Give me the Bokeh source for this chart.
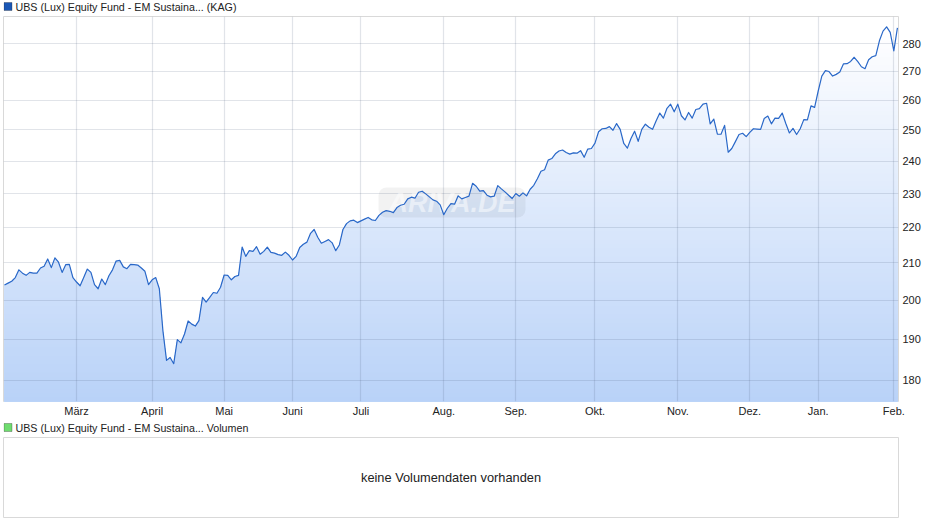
import numpy as np
from bokeh.plotting import figure
from bokeh.layouts import column
from bokeh.models import FixedTicker, BasicTickFormatter, Label, BoxAnnotation
from bokeh.embed import file_html
from bokeh.resources import INLINE

# Fund price per trading day
prices = [
 204.0,204.5,205.0,206.0,208.1,207.2,206.6,207.4,207.2,207.2,208.6,209.1,211.1,208.7,211.4,210.2,207.4,209.5,209.6,206.0,
 204.8,203.8,206.0,208.3,207.4,204.1,203.0,205.6,204.1,206.5,208.1,210.5,210.7,208.9,208.4,209.6,209.5,209.4,208.6,207.7,
 204.1,205.4,206.0,203.0,192.1,184.8,185.5,184.0,189.9,189.1,191.3,194.6,193.8,193.3,194.7,200.7,199.5,200.7,202.0,201.8,
 203.4,206.7,206.6,205.4,206.3,206.6,214.4,211.8,213.4,213.2,214.5,212.4,213.2,214.4,212.9,212.7,212.3,212.1,213.0,212.1,
 210.8,211.8,214.3,215.2,215.8,218.3,219.4,217.2,215.5,216.0,216.5,215.6,213.4,215.0,219.4,221.1,221.9,222.1,221.4,221.9,
 222.4,222.9,222.2,222.0,223.5,224.4,224.9,224.7,224.3,225.8,226.5,226.8,228.4,228.9,228.6,230.4,230.7,229.9,229.0,228.1,
 227.7,226.6,223.7,225.6,227.0,226.8,229.3,228.4,228.8,229.2,233.1,232.2,230.7,230.9,229.5,229.0,229.2,232.4,231.4,230.5,
 229.5,228.5,230.0,229.2,230.2,229.3,231.3,232.5,234.5,236.8,237.3,240.3,240.8,242.3,243.2,243.5,242.7,242.2,242.6,242.5,
 243.3,241.2,243.8,244.0,245.7,249.4,250.4,250.5,251.1,249.9,252.1,250.2,245.6,244.1,247.2,249.6,246.3,250.2,251.9,250.9,
 250.2,253.0,255.6,253.9,257.2,258.6,256.0,258.6,254.7,253.3,255.8,253.9,256.8,257.1,258.6,258.9,252.0,253.6,248.6,248.6,
 251.5,242.8,244.0,246.2,248.5,248.9,247.8,249.2,250.4,250.3,250.2,253.8,254.6,252.0,253.9,253.8,255.6,252.1,249.0,250.5,
 248.5,250.4,253.4,253.3,258.0,257.5,263.1,268.3,270.2,269.9,268.3,268.9,269.7,272.6,272.7,273.5,275.0,273.4,271.6,270.9,
 274.1,275.2,275.6,281.0,284.6,286.2,284.1,277.3,285.8,
]
month_labels = ["März","April","Mai","Juni","Juli","Aug.","Sep.","Okt.","Nov.","Dez.","Jan.","Feb."]
month_index = [20,41,61,80,99,122,142,164,187,207,226,247]
price_ticks = [180,190,200,210,220,230,240,250,260,270,280]
price_title = "UBS (Lux) Equity Fund - EM Sustaina... (KAG)"
volume_title = "UBS (Lux) Equity Fund - EM Sustaina... Volumen"
no_volume = "keine Volumendaten vorhanden"

TEXT = "#222222"
FONT = "Liberation Sans"
y_lo, y_hi = 175.1, 290.1
x = np.arange(len(prices))
v = np.array(prices)


def header(text, color, strip, text_y):
    """Thin strip above a panel: coloured square and series name."""
    s = figure(width=932, height=strip, output_backend="svg", toolbar_location=None,
               x_range=(0, 1), y_range=(0, 1), min_border=0,
               background_fill_color=None, border_fill_color=None, outline_line_color=None)
    s.xaxis.visible = False
    s.yaxis.visible = False
    s.grid.visible = False
    s.add_layout(BoxAnnotation(left=0.5, right=8.5, top=text_y + 4, bottom=text_y - 4,
                               left_units="screen", right_units="screen", top_units="screen", bottom_units="screen",
                               fill_color=color, fill_alpha=1, line_color="#222222", line_width=1))
    s.add_layout(Label(x=12, y=text_y, x_units="screen", y_units="screen", text=text,
                       text_font=FONT, text_font_size="10.7px", text_color=TEXT, text_baseline="middle"))
    return s


p = figure(width=932, height=404, output_backend="svg", toolbar_location=None,
           y_axis_type="log", y_axis_location="right",
           x_range=(-0.28, 248.3), y_range=(y_lo, y_hi),
           frame_width=895, frame_height=385,
           min_border_left=3, min_border_top=0, min_border_right=34, min_border_bottom=19,
           background_fill_color="white", border_fill_color=None,
           outline_line_color="#d9d9d9", outline_line_width=1)

# vertical gradient below the line
n_bands = 90
edges = np.geomspace(y_lo, y_hi * 0.985, n_bands + 1)
bottom = np.array([0xB9, 0xD2, 0xF8])
top = np.array([0xFF, 0xFF, 0xFF])
for k in range(n_bands - 1, -1, -1):
    t = k / (n_bands - 1)
    c = (bottom + (top - bottom) * t).round().astype(int)
    p.varea(x=x, y1=np.full(len(x), y_lo), y2=np.minimum(v, edges[k + 1]),
            fill_color="#%02x%02x%02x" % tuple(c), level="image")

p.line(x, v, line_color="#2a68c8", line_width=1.2, line_join="round")

ax = p.xaxis[0]
ax.ticker = FixedTicker(ticks=month_index)
ax.major_label_overrides = dict(zip(month_index, month_labels))
ay = p.yaxis[0]
ay.ticker = FixedTicker(ticks=price_ticks)
ay.formatter = BasicTickFormatter()
for a in (ax, ay):
    a.axis_line_color = None
    a.major_tick_line_color = None
    a.minor_tick_line_color = None
    a.major_tick_out = 0
    a.major_tick_in = 0
    a.major_label_text_font = FONT
    a.major_label_text_font_size = "11px"
    a.major_label_text_color = TEXT
ax.major_label_standoff = 3
ay.major_label_standoff = 4

for g in (p.xgrid[0], p.ygrid[0]):
    g.grid_line_color = "#50607f"
    g.grid_line_alpha = 0.17
    g.grid_line_width = 1.2
p.xgrid[0].ticker = FixedTicker(ticks=month_index)
p.ygrid[0].ticker = FixedTicker(ticks=price_ticks)

# faint site watermark
p.add_layout(Label(x=375, y=199, x_units="screen", y_units="screen", text="ARIVA.DE",
                   text_font=FONT, text_font_style="bold italic", text_font_size="27px",
                   text_color="white", text_alpha=0.5, text_baseline="middle",
                   background_fill_color="black", background_fill_alpha=0.05,
                   padding=(10, 0), border_radius=8, level="underlay"))

q = figure(width=932, height=88, output_backend="svg", toolbar_location=None,
           x_range=(0, 1), y_range=(0, 1),
           frame_width=895, frame_height=80,
           min_border_left=3, min_border_top=0, min_border_right=34, min_border_bottom=8,
           background_fill_color="white", border_fill_color=None,
           outline_line_color="#d9d9d9", outline_line_width=1)
q.xaxis.visible = False
q.yaxis.visible = False
q.grid.visible = False
q.add_layout(Label(x=0.5, y=0.5, text=no_volume, text_align="center", text_baseline="middle",
                   text_font=FONT, text_font_size="12.8px", text_color=TEXT))

layout = column(header(price_title, "#1a57b5", 16, 10), p,
                header(volume_title, "#6fdc6f", 17, 10), q, spacing=0)
open("out.html", "w").write(file_html(layout, INLINE))
